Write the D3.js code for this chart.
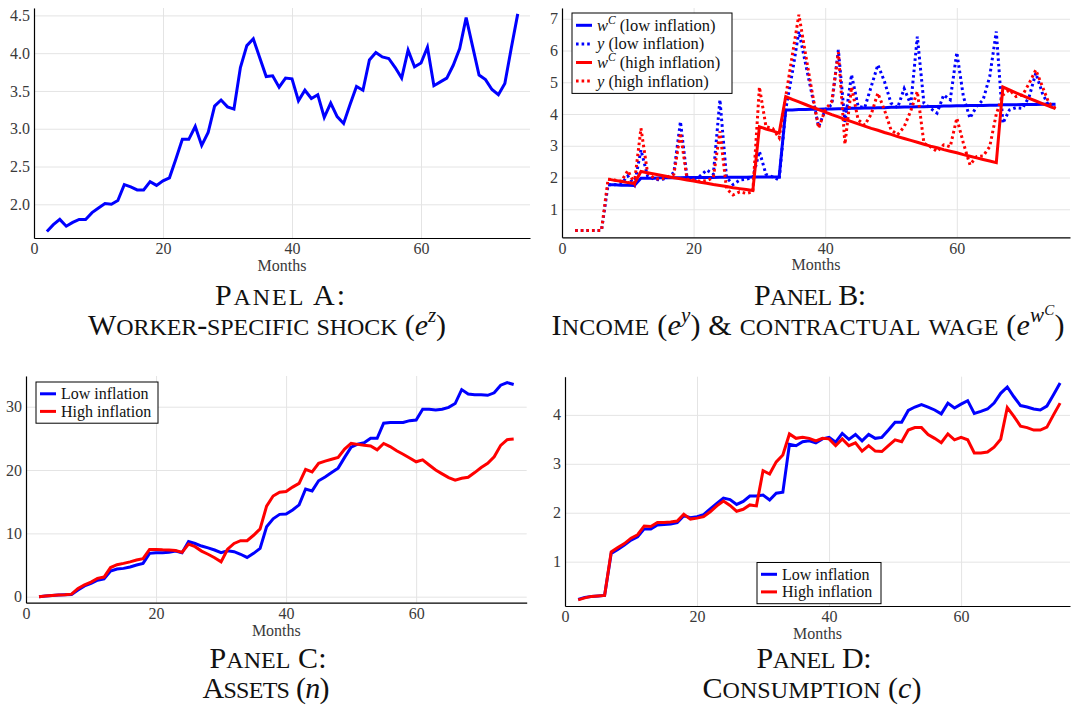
<!DOCTYPE html>
<html>
<head>
<meta charset="utf-8">
<script src="https://cdn.jsdelivr.net/npm/d3@7"></script>
<style>
  body { margin: 0; background: #fff; }
  svg text { font-family: "Liberation Serif", "DejaVu Serif", serif; }
</style>
</head>
<body>
<svg id="fig" width="1073" height="711"></svg>
<script>
// ---- data ---------------------------------------------------------------
const months = [
  2, 3, 4, 5, 6, 7, 8, 9, 10, 11,
  12, 13, 14, 15, 16, 17, 18, 19, 20, 21,
  22, 23, 24, 25, 26, 27, 28, 29, 30, 31,
  32, 33, 34, 35, 36, 37, 38, 39, 40, 41,
  42, 43, 44, 45, 46, 47, 48, 49, 50, 51,
  52, 53, 54, 55, 56, 57, 58, 59, 60, 61,
  62, 63, 64, 65, 66, 67, 68, 69, 70, 71,
  72, 73, 74, 75
];

// Panel A: worker-specific shock e^z
const shockZ = [
  1.64, 1.73, 1.80, 1.71, 1.76, 1.80, 1.80, 1.89, 1.95, 2.01,
  2.00, 2.05, 2.26, 2.23, 2.19, 2.19, 2.30, 2.25, 2.31, 2.35,
  2.60, 2.86, 2.86, 3.03, 2.78, 2.95, 3.30, 3.38, 3.29, 3.26,
  3.81, 4.10, 4.19, 3.94, 3.69, 3.70, 3.55, 3.67, 3.66, 3.37,
  3.51, 3.40, 3.45, 3.15, 3.34, 3.16, 3.07, 3.32, 3.56, 3.51,
  3.91, 4.01, 3.95, 3.93, 3.81, 3.67, 4.04, 3.82, 3.87, 4.08,
  3.57, 3.62, 3.67, 3.84, 4.06, 4.47, 4.09, 3.71, 3.65, 3.52,
  3.45, 3.60, 4.07, 4.52
];

// Panel B: contractual wage w^C and income y
const wageLow = [
  null, null, null, null, null, 1.77, 1.77, 1.76, 1.76, 1.75,
  1.98, 1.98, 1.98, 1.99, 1.99, 1.99, 1.99, 2.00, 2.00, 2.00,
  2.00, 2.00, 2.01, 2.01, 2.01, 2.01, 2.01, 2.02, 2.02, 2.02,
  2.02, 2.02, 4.13, 4.13, 4.14, 4.14, 4.15, 4.15, 4.16, 4.16,
  4.17, 4.17, 4.18, 4.18, 4.19, 4.19, 4.20, 4.20, 4.21, 4.21,
  4.22, 4.22, 4.23, 4.23, 4.24, 4.24, 4.25, 4.25, 4.26, 4.26,
  4.27, 4.27, 4.27, 4.28, 4.28, 4.29, 4.29, 4.29, 4.30, 4.30,
  4.30, 4.31, 4.31, 4.31
];
const incomeLow = [
  0.33, 0.33, 0.33, 0.33, 0.33, 1.77, 1.77, 1.80, 2.05, 1.77,
  2.87, 2.05, 1.95, 1.92, 2.00, 2.15, 3.76, 2.00, 1.95, 2.05,
  2.24, 2.10, 4.45, 2.00, 1.78, 1.92, 1.95, 2.00, 2.82, 2.10,
  2.02, 1.92, 4.15, 5.30, 6.60, 5.60, 4.60, 3.60, 4.13, 4.30,
  6.02, 3.75, 5.24, 4.24, 4.20, 4.87, 5.55, 5.03, 4.34, 4.20,
  4.80, 4.30, 6.44, 4.34, 4.18, 4.03, 4.60, 4.45, 5.94, 4.55,
  3.87, 4.24, 4.45, 5.18, 6.60, 3.71, 4.13, 4.20, 4.18, 4.55,
  5.29, 4.66, 4.24, 4.22
];
const wageHigh = [
  null, null, null, null, null, 1.95, 1.91, 1.88, 1.84, 1.81,
  2.19, 2.15, 2.11, 2.07, 2.03, 1.99, 1.96, 1.92, 1.89, 1.85,
  1.82, 1.78, 1.75, 1.72, 1.68, 1.65, 1.62, 1.59, 3.60, 3.53,
  3.47, 3.40, 4.55, 4.46, 4.38, 4.30, 4.22, 4.14, 4.06, 3.98,
  3.91, 3.83, 3.76, 3.69, 3.62, 3.55, 3.49, 3.42, 3.36, 3.29,
  3.23, 3.17, 3.11, 3.05, 2.99, 2.94, 2.88, 2.83, 2.78, 2.72,
  2.67, 2.62, 2.57, 2.52, 2.47, 4.85, 4.76, 4.67, 4.58, 4.49,
  4.41, 4.33, 4.25, 4.17
];
const incomeHigh = [
  0.33, 0.33, 0.33, 0.33, 0.33, 1.95, 1.92, 1.88, 2.22, 1.82,
  3.55, 2.15, 1.97, 1.95, 2.00, 2.10, 3.40, 1.95, 1.92, 1.88,
  1.90, 2.00, 3.45, 1.65, 1.45, 1.55, 1.50, 1.55, 4.85, 3.60,
  3.55, 3.25, 4.55, 5.85, 7.13, 5.90, 4.70, 3.56, 4.13, 4.40,
  5.95, 3.05, 4.85, 3.82, 3.65, 4.00, 4.66, 4.13, 3.50, 3.35,
  3.60, 4.10, 4.71, 3.08, 2.97, 2.82, 3.03, 2.97, 3.87, 3.08,
  2.40, 2.66, 2.68, 2.97, 4.00, 4.60, 4.76, 4.55, 4.60, 4.97,
  5.39, 4.87, 4.34, 4.18
];

// Panel C: assets n
const assetsLow = [
  0.00, 0.10, 0.20, 0.25, 0.30, 0.35, 1.05, 1.70, 2.10, 2.60,
  2.80, 4.05, 4.37, 4.47, 4.70, 5.00, 5.26, 6.84, 6.95, 6.95,
  7.00, 7.20, 6.95, 8.70, 8.40, 8.00, 7.70, 7.37, 6.95, 7.26,
  7.10, 6.70, 6.20, 6.84, 7.63, 11.05, 12.30, 13.00, 13.05, 13.70,
  14.50, 17.00, 16.70, 18.30, 18.90, 19.60, 20.30, 22.00, 23.60, 24.10,
  24.30, 25.00, 25.00, 27.40, 27.50, 27.50, 27.50, 27.80, 27.90, 29.60,
  29.60, 29.50, 29.60, 29.90, 30.50, 32.70, 32.00, 31.90, 31.90, 31.80,
  32.20, 33.40, 33.80, 33.50
];
const assetsHigh = [
  0.00, 0.10, 0.20, 0.25, 0.30, 0.40, 1.30, 1.85, 2.30, 2.90,
  3.10, 4.60, 5.05, 5.26, 5.50, 5.80, 6.00, 7.47, 7.47, 7.40,
  7.37, 7.30, 7.00, 8.30, 7.90, 7.20, 6.70, 6.15, 5.50, 7.50,
  8.40, 8.85, 8.85, 9.70, 10.70, 14.30, 15.90, 16.50, 16.60, 17.30,
  17.90, 20.10, 19.70, 21.05, 21.40, 21.70, 22.00, 23.30, 24.20, 24.05,
  23.90, 23.80, 23.20, 24.20, 23.70, 23.05, 22.50, 21.90, 21.30, 21.60,
  20.80, 20.00, 19.40, 18.80, 18.40, 18.70, 18.85, 19.60, 20.40, 21.05,
  22.10, 23.90, 24.80, 24.90
];

// Panel D: consumption c
const consLow = [
  0.23, 0.27, 0.29, 0.30, 0.31, 1.17, 1.25, 1.34, 1.44, 1.51,
  1.67, 1.67, 1.75, 1.76, 1.77, 1.80, 1.94, 1.90, 1.92, 1.96,
  2.08, 2.19, 2.30, 2.27, 2.17, 2.23, 2.34, 2.34, 2.36, 2.26,
  2.40, 2.42, 3.40, 3.37, 3.45, 3.47, 3.43, 3.51, 3.54, 3.44,
  3.62, 3.50, 3.60, 3.47, 3.60, 3.52, 3.54, 3.69, 3.85, 3.85,
  4.09, 4.16, 4.21, 4.16, 4.10, 4.02, 4.24, 4.14, 4.22, 4.29,
  4.03, 4.07, 4.12, 4.24, 4.44, 4.57, 4.37, 4.19, 4.16, 4.12,
  4.10, 4.18, 4.41, 4.65
];
const consHigh = [
  0.22, 0.26, 0.29, 0.30, 0.31, 1.20, 1.29, 1.37, 1.48, 1.55,
  1.73, 1.72, 1.80, 1.80, 1.81, 1.83, 1.97, 1.87, 1.89, 1.92,
  2.02, 2.14, 2.24, 2.15, 2.03, 2.07, 2.16, 2.14, 2.86, 2.79,
  3.04, 3.18, 3.61, 3.52, 3.54, 3.52, 3.47, 3.52, 3.51, 3.37,
  3.51, 3.37, 3.43, 3.26, 3.37, 3.26, 3.25, 3.37, 3.49, 3.45,
  3.69, 3.74, 3.74, 3.60, 3.52, 3.43, 3.61, 3.49, 3.54, 3.49,
  3.22, 3.22, 3.24, 3.34, 3.50, 4.15, 3.97, 3.77, 3.74, 3.69,
  3.69, 3.75, 4.00, 4.24
];

// ticks
const xTicks = [0, 20, 40, 60];
const yTicksA = [2.0, 2.5, 3.0, 3.5, 4.0, 4.5];
const yTicksB = [1, 2, 3, 4, 5, 6, 7];
const yTicksC = [0, 10, 20, 30];
const yTicksD = [1, 2, 3, 4];

// ---- drawing ------------------------------------------------------------
const BLUE = "#0000ff", RED = "#ff0000";
const SERIF = "'Liberation Serif', 'DejaVu Serif', serif";
const svg = d3.select("#fig");

function setupPanel(box, xDomain, yDomain, yTicks, yFmt) {
  const x = d3.scaleLinear().domain(xDomain).range([box.l, box.r]);
  const y = d3.scaleLinear().domain(yDomain).range([box.b, box.t]);
  const g = svg.append("g");

  // grid
  g.append("g")
    .attr("transform", `translate(0,${box.b})`)
    .call(d3.axisBottom(x).tickValues(xTicks).tickSize(-(box.b - box.t)).tickFormat(""))
    .call(s => { s.select(".domain").remove(); s.selectAll("line").attr("stroke", "#e4e4e4"); });
  g.append("g")
    .attr("transform", `translate(${box.l},0)`)
    .call(d3.axisLeft(y).tickValues(yTicks).tickSize(-(box.r - box.l)).tickFormat(""))
    .call(s => { s.select(".domain").remove(); s.selectAll("line").attr("stroke", "#e4e4e4"); });

  // axes with labels
  const ax = g.append("g")
    .attr("transform", `translate(0,${box.b})`)
    .call(d3.axisBottom(x).tickValues(xTicks).tickSize(0).tickPadding(5).tickFormat(d3.format("d")));
  const ay = g.append("g")
    .attr("transform", `translate(${box.l},0)`)
    .call(d3.axisLeft(y).tickValues(yTicks).tickSize(0).tickPadding(4).tickFormat(yFmt));
  [ax, ay].forEach(a => {
    a.attr("font-family", SERIF).attr("font-size", 16);
    a.select(".domain").attr("stroke", "#000").attr("stroke-width", 1.2);
    a.selectAll("text").attr("fill", "#3a3a3a").style("font-size", "16px")
      .style("font-family", SERIF);
  });

  g.append("text")
    .attr("x", (box.l + box.r) / 2).attr("y", box.b + 33)
    .attr("text-anchor", "middle").attr("fill", "#3a3a3a")
    .style("font-size", "16px").style("font-family", SERIF).text("Months");

  const plot = g.append("g");
  return { x, y, g, plot };
}

function drawLine(p, values, color, dashed) {
  const pts = months.map((m, i) => ({ m, v: values[i] }));
  const line = d3.line().defined(d => d.v != null).x(d => p.x(d.m)).y(d => p.y(d.v));
  p.plot.append("path").datum(pts)
    .attr("d", line).attr("fill", "none").attr("stroke", color)
    .attr("stroke-width", 3).attr("stroke-linejoin", "miter")
    .attr("stroke-dasharray", dashed ? "2.6 3" : null);
}

function legend(g, x0, y0, w, rowH, entries, fontSize) {
  const h = rowH * entries.length + 6;
  g.append("rect").attr("x", x0).attr("y", y0).attr("width", w).attr("height", h)
    .attr("fill", "#fff").attr("stroke", "#000").attr("stroke-width", 1);
  entries.forEach((e, i) => {
    const cy = y0 + 3 + rowH * (i + 0.5);
    g.append("line").attr("x1", x0 + 4).attr("x2", x0 + 20).attr("y1", cy).attr("y2", cy)
      .attr("stroke", e.color).attr("stroke-width", 3)
      .attr("stroke-dasharray", e.dashed ? "2.6 3" : null);
    const t = g.append("text").attr("x", x0 + 25).attr("y", cy + fontSize * 0.33)
      .style("font-size", fontSize + "px").style("font-family", SERIF).attr("fill", "#111");
    e.parts.forEach(pt => {
      const s = t.append("tspan").text(pt.t);
      if (pt.it) s.style("font-style", "italic");
      if (pt.sup) s.style("font-size", (fontSize * 0.7) + "px").attr("dy", -fontSize * 0.4);
      if (pt.down) s.attr("dy", fontSize * 0.4);
    });
  });
}

// small caps: capitals at full size, lower-case letters as capitals at reduced size
function smallCaps(t, str, size, baseShift) {
  const runs = str.match(/[a-z]+|[^a-z]+/g) || [];
  let first = true;
  runs.forEach(r => {
    const lower = /[a-z]/.test(r[0]);
    const sp = t.append("tspan").text(lower ? r.toUpperCase() : r)
      .style("font-size", (lower ? 0.8 * size : size) + "px");
    if (first && baseShift) { sp.attr("dy", baseShift); }
    first = false;
  });
}

// two-line panel caption: small caps text with inline math
function caption(cx1, cx2, y1, y2, w1, w2, head, segs) {
  const size = 30;
  const t1 = svg.append("text").attr("x", cx1).attr("y", y1).attr("text-anchor", "middle")
    .style("font-size", size + "px").attr("fill", "#111");
  smallCaps(t1, head, size, 0);
  t1.attr("textLength", w1).attr("lengthAdjust", "spacing");

  const t = svg.append("text").attr("x", cx2).attr("y", y2).attr("text-anchor", "middle")
    .style("font-size", size + "px").attr("fill", "#111");
  let shift = 0;
  segs.forEach(s => {
    const lvl = s.lvl || 0;
    const target = lvl === 0 ? 0 : (lvl === 1 ? -0.42 * size : -0.68 * size);
    const dy = target - shift;
    shift = target;
    if (s.m) {
      t.append("tspan").text(s.t).attr("dy", dy)
        .style("font-style", "italic")
        .style("font-size", (lvl === 0 ? size : lvl === 1 ? 0.7 * size : 0.5 * size) + "px");
    } else {
      smallCaps(t, s.t, size, dy);
    }
  });
  t.attr("textLength", w2).attr("lengthAdjust", "spacing");
}

// Panel A
const pA = setupPanel({ l: 34, r: 530, t: 8, b: 238 }, [0, 76.9], [1.554, 4.598], yTicksA, d3.format(".1f"));
drawLine(pA, shockZ, BLUE, false);

// Panel B
const pB = setupPanel({ l: 562, r: 1070, t: 8, b: 237.3 }, [0, 77.2], [0.117, 7.34], yTicksB, d3.format("d"));
drawLine(pB, wageLow, BLUE, false);
drawLine(pB, incomeLow, BLUE, true);
drawLine(pB, wageHigh, RED, false);
drawLine(pB, incomeHigh, RED, true);
legend(pB.g, 572, 13, 160, 18.6, [
  { color: BLUE, dashed: false, parts: [{ t: "w", it: true }, { t: "C", it: true, sup: true }, { t: " (low inflation)", down: true }] },
  { color: BLUE, dashed: true, parts: [{ t: "y", it: true }, { t: " (low inflation)" }] },
  { color: RED, dashed: false, parts: [{ t: "w", it: true }, { t: "C", it: true, sup: true }, { t: " (high inflation)", down: true }] },
  { color: RED, dashed: true, parts: [{ t: "y", it: true }, { t: " (high inflation)" }] }
], 16.5);

// Panel C
const pC = setupPanel({ l: 26, r: 526.7, t: 376, b: 602.7 }, [0, 77], [-0.95, 34.85], yTicksC, d3.format("d"));
drawLine(pC, assetsLow, BLUE, false);
drawLine(pC, assetsHigh, RED, false);
legend(pC.g, 36, 382, 122, 17.6, [
  { color: BLUE, parts: [{ t: "Low inflation" }] },
  { color: RED, parts: [{ t: "High inflation" }] }
], 16);

// Panel D
const pD = setupPanel({ l: 565, r: 1070, t: 376.7, b: 606 }, [0, 76.5], [0.094, 4.78], yTicksD, d3.format("d"));
drawLine(pD, consLow, BLUE, false);
drawLine(pD, consHigh, RED, false);
legend(pD.g, 757, 562.5, 124, 17.6, [
  { color: BLUE, parts: [{ t: "Low inflation" }] },
  { color: RED, parts: [{ t: "High inflation" }] }
], 16);

// captions
caption(280, 267, 305, 335, 130, 358, "Panel A:", [
  { t: "Worker-specific shock (" }, { t: "e", m: true }, { t: "z", m: true, lvl: 1 }, { t: ")" }
]);
caption(810, 808, 305, 335, 112, 513, "Panel B:", [
  { t: "Income (" }, { t: "e", m: true }, { t: "y", m: true, lvl: 1 }, { t: ") & contractual wage (" },
  { t: "e", m: true }, { t: "w", m: true, lvl: 1 }, { t: "C", m: true, lvl: 2 }, { t: ")" }
]);
caption(268, 266, 668, 698, 117, 127, "Panel C:", [
  { t: "Assets (" }, { t: "n", m: true }, { t: ")" }
]);
caption(814, 812, 668, 698, 115, 219, "Panel D:", [
  { t: "Consumption (" }, { t: "c", m: true }, { t: ")" }
]);
</script>
</body>
</html>
